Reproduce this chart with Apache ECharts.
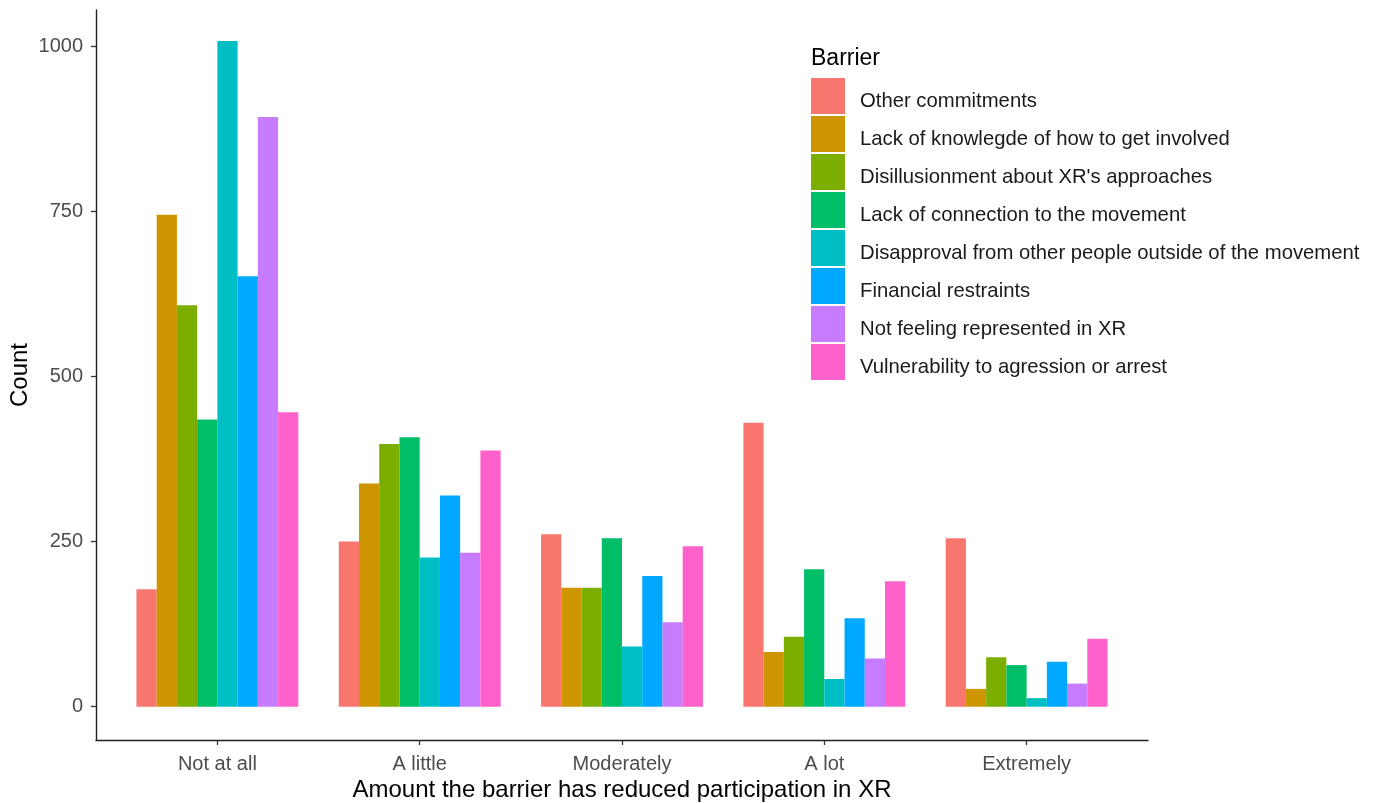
<!DOCTYPE html>
<html>
<head>
<meta charset="utf-8">
<script src="https://cdn.jsdelivr.net/npm/echarts@6.0.0/dist/echarts.min.js"></script>
<style>
html,body{margin:0;padding:0;background:#fff;}
#chart{width:1378px;height:803px;}
</style>
</head>
<body>
<div id="chart"></div>
<script>
const categories = ["Not at all", "A little", "Moderately", "A lot", "Extremely"];
const barriers = [
  "Other commitments",
  "Lack of knowlegde of how to get involved",
  "Disillusionment about XR's approaches",
  "Lack of connection to the movement",
  "Disapproval from other people outside of the movement",
  "Financial restraints",
  "Not feeling represented in XR",
  "Vulnerability to agression or arrest"
];
const otherCommitments   = [178, 250, 261, 430, 255];
const lackKnowledge      = [745, 338, 180,  83,  27];
const disillusionment    = [608, 398, 180, 106,  75];
const lackConnection     = [435, 408, 255, 208,  63];
const disapproval        = [1008, 226, 91,  42,  13];
const financial          = [652, 320, 198, 134,  68];
const notRepresented     = [893, 233, 128,  73,  35];
const vulnerability      = [446, 388, 243, 190, 103];
const yTicks = [0, 250, 500, 750, 1000];

const seriesValues = [otherCommitments, lackKnowledge, disillusionment, lackConnection,
                      disapproval, financial, notRepresented, vulnerability];
const colors = ["#F8766D", "#CD9600", "#7CAE00", "#00BE67", "#00BFC4", "#00A9FF", "#C77CFF", "#FF61CC"];
const FONT = "'Liberation Sans', Arial, sans-serif";
const catPositions = categories.map((c, i) => i + 1);

const chart = echarts.init(document.getElementById('chart'), null, {renderer: 'canvas'});
const option = {
  animation: false,
  backgroundColor: '#ffffff',
  color: colors,
  textStyle: {fontFamily: FONT},
  title: {
    text: 'Barrier',
    left: 811, top: 47, padding: 0,
    textStyle: {fontSize: 23, fontWeight: 'normal', color: '#000', fontFamily: FONT}
  },
  legend: {
    orient: 'vertical',
    left: 811, top: 78,
    padding: 0,
    itemWidth: 34, itemHeight: 36, itemGap: 2,
    icon: 'rect',
    selectedMode: false,
    data: barriers,
    formatter: name => '{t|' + name + '}',
    textStyle: {
      fontSize: 20.3, color: '#1a1a1a', fontFamily: FONT,
      rich: {t: {fontSize: 20.3, color: '#1a1a1a', fontFamily: FONT, padding: [10, 0, 0, 10]}}
    }
  },
  grid: {left: 96, right: 230, top: 10, bottom: 63, containLabel: false, outerBoundsMode: 'none'},
  xAxis: {
    type: 'value',
    min: 0.4, max: 5.6,
    name: 'Amount the barrier has reduced participation in XR',
    nameLocation: 'middle', nameGap: 38,
    nameMoveOverlap: false,
    nameTextStyle: {fontSize: 24, color: '#000', fontFamily: FONT},
    axisLine: {show: true, onZero: false, lineStyle: {color: '#222', width: 1.4}},
    axisTick: {show: true, length: 5, lineStyle: {color: '#333', width: 1.3}, customValues: catPositions},
    axisLabel: {
      customValues: catPositions,
      margin: 14, fontSize: 20, color: '#4D4D4D', fontFamily: FONT,
      formatter: v => categories[Math.round(v) - 1] || ''
    },
    splitLine: {show: false}
  },
  yAxis: {
    type: 'value',
    min: -50.4, max: 1055,
    name: 'Count',
    nameLocation: 'middle', nameGap: 64,
    nameMoveOverlap: false,
    nameTextStyle: {fontSize: 24, color: '#000', fontFamily: FONT},
    axisLine: {show: true, onZero: false, lineStyle: {color: '#222', width: 1.4}},
    axisTick: {show: true, length: 5, lineStyle: {color: '#333', width: 1.3}, customValues: yTicks},
    axisLabel: {customValues: yTicks, margin: 13, fontSize: 20, color: '#4D4D4D', fontFamily: FONT,
                formatter: v => String(v)},
    splitLine: {show: false}
  },
  series: barriers.map((name, si) => ({
    name: name,
    type: 'bar',
    barWidth: '10%',
    barGap: '0%',
    itemStyle: {color: colors[si]},
    data: seriesValues[si].map((v, ci) => [catPositions[ci], v])
  }))
};
chart.setOption(option);
</script>
</body>
</html>
